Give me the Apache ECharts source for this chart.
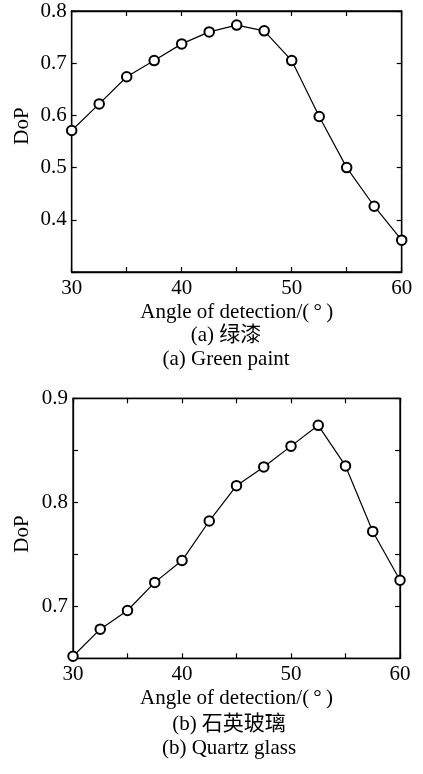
<!DOCTYPE html>
<html>
<head>
<meta charset="utf-8">
<script src="https://cdn.jsdelivr.net/npm/echarts@6/dist/echarts.min.js"></script>
<style>
html,body{margin:0;padding:0;background:#fff;}
#chart{width:423px;height:774px;}
</style>
</head>
<body>
<div id="chart"></div>
<script>
// Data
const angles = [30, 32.5, 35, 37.5, 40, 42.5, 45, 47.5, 50, 52.5, 55, 57.5, 60];
const greenPaint = [0.571, 0.622, 0.674, 0.705, 0.737, 0.760, 0.773, 0.762, 0.705, 0.598, 0.500, 0.426, 0.361];
const quartzGlass = [0.652, 0.678, 0.696, 0.723, 0.744, 0.782, 0.816, 0.834, 0.854, 0.874, 0.835, 0.772, 0.725];
const xTickLabels = [30, 40, 50, 60];
const yTickLabelsA = [0.4, 0.5, 0.6, 0.7, 0.8];
const yTickLabelsB = [0.7, 0.8, 0.9];
const xAxisTitle = 'Angle of detection/(\u2009\u00b0\u2009)';
const yAxisTitle = 'DoP';
const captionsA = ['(a) 绿漆', '(a) Green paint'];
const captionsB = ['(b) 石英玻璃', '(b) Quartz glass'];

const FONT = "'Liberation Serif', 'Times New Roman', 'Noto Sans CJK SC', serif";
const FS = 21;

function pair(series) { return angles.map((a, i) => [a, series[i]]); }
function inList(v, list) { return list.some(t => Math.abs(t - v) < 1e-6); }

const axisLine = { show: true, lineStyle: { color: '#000', width: 1.3 } };
const tick = { show: true, inside: true, length: 5, lineStyle: { color: '#000', width: 1.2 } };

function xAxes(grid, main) {
  return {
    type: 'value', gridIndex: grid, min: 30, max: 60, interval: 5,
    position: main ? 'bottom' : 'top',
    axisLine: axisLine, axisTick: tick, splitLine: { show: false },
    axisLabel: main ? {
      show: true, margin: 6, color: '#000', fontFamily: FONT, fontSize: FS,
      formatter: v => inList(v, xTickLabels) ? String(v) : ''
    } : { show: false },
    name: main ? xAxisTitle : '', nameLocation: 'middle', nameGap: 40,
    nameTextStyle: { color: '#000', fontFamily: FONT, fontSize: FS, verticalAlign: 'middle' }
  };
}
function yAxes(grid, main, min, max, interval, labels) {
  return {
    type: 'value', gridIndex: grid, min: min, max: max, interval: interval,
    position: main ? 'left' : 'right',
    axisLine: axisLine, axisTick: tick, splitLine: { show: false },
    axisLabel: main ? {
      show: true, margin: 5, color: '#000', fontFamily: FONT, fontSize: FS,
      formatter: v => inList(v, labels) ? v.toFixed(1) : ''
    } : { show: false }
  };
}

const seriesStyle = {
  type: 'line', symbol: 'emptyCircle', symbolSize: 9.5,
  showAllSymbol: true,
  lineStyle: { color: '#000', width: 1.2 },
  itemStyle: { color: '#000', borderColor: '#000', borderWidth: 1 },
  clip: true, animation: false, z: 5
};

const option = {
  backgroundColor: '#fff',
  animation: false,
  grid: [
    { left: 71.7, top: 11, width: 330, height: 261, show: true, borderColor: '#000', borderWidth: 1.3, backgroundColor: 'transparent' },
    { left: 73, top: 398.3, width: 327, height: 260, show: true, borderColor: '#000', borderWidth: 1.3, backgroundColor: 'transparent' }
  ],
  xAxis: [xAxes(0, true), xAxes(0, false), xAxes(1, true), xAxes(1, false)],
  yAxis: [
    yAxes(0, true, 0.3, 0.8, 0.1, yTickLabelsA),
    yAxes(0, false, 0.3, 0.8, 0.1, yTickLabelsA),
    yAxes(1, true, 0.65, 0.9, 0.05, yTickLabelsB),
    yAxes(1, false, 0.65, 0.9, 0.05, yTickLabelsB)
  ],
  series: [
    Object.assign({}, seriesStyle, { name: 'Green paint', xAxisIndex: 0, yAxisIndex: 0, data: pair(greenPaint) }),
    Object.assign({}, seriesStyle, { name: 'Quartz glass', xAxisIndex: 2, yAxisIndex: 2, data: pair(quartzGlass) })
  ],
  graphic: [
    { type: 'text', x: 22, y: 126, rotation: Math.PI / 2, style: { text: yAxisTitle, font: FS + 'px ' + FONT, fill: '#000', textAlign: 'center', textVerticalAlign: 'middle' } },
    { type: 'text', x: 22, y: 534, rotation: Math.PI / 2, style: { text: yAxisTitle, font: FS + 'px ' + FONT, fill: '#000', textAlign: 'center', textVerticalAlign: 'middle' } },
    { type: 'text', x: 226, y: 335, style: { text: captionsA[0], font: FS + 'px ' + FONT, fill: '#000', textAlign: 'center', textVerticalAlign: 'middle' } },
    { type: 'text', x: 226, y: 359, style: { text: captionsA[1], font: FS + 'px ' + FONT, fill: '#000', textAlign: 'center', textVerticalAlign: 'middle' } },
    { type: 'text', x: 229, y: 724, style: { text: captionsB[0], font: FS + 'px ' + FONT, fill: '#000', textAlign: 'center', textVerticalAlign: 'middle' } },
    { type: 'text', x: 229, y: 748, style: { text: captionsB[1], font: FS + 'px ' + FONT, fill: '#000', textAlign: 'center', textVerticalAlign: 'middle' } }
  ]
};

const chart = echarts.init(document.getElementById('chart'), null, { renderer: 'canvas' });
chart.setOption(option);
</script>
</body>
</html>
